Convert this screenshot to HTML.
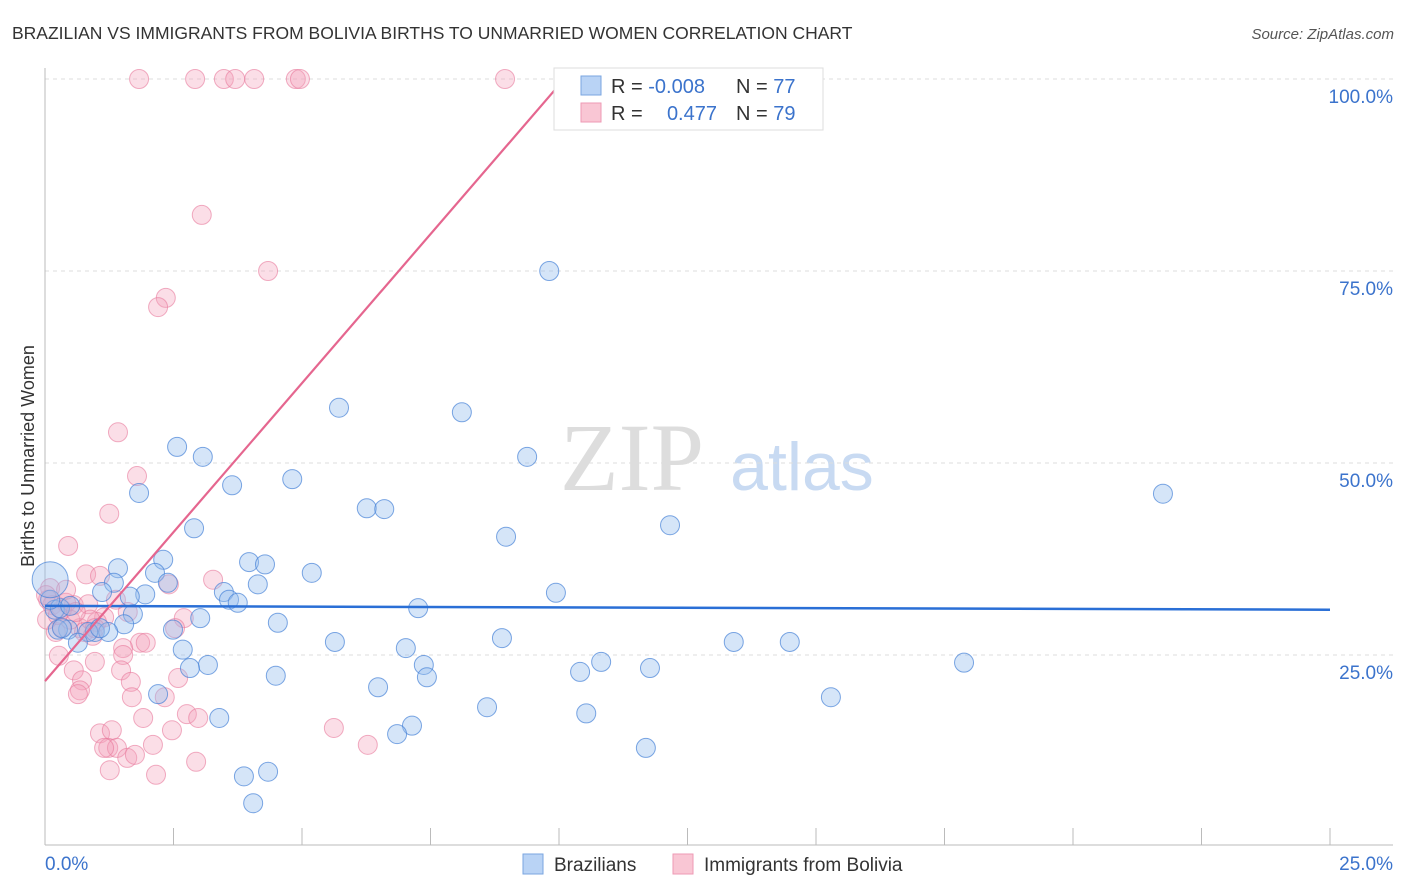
<!DOCTYPE html>
<html><head><meta charset="utf-8"><style>
body{margin:0;background:#fff;font-family:"Liberation Sans",sans-serif;}
svg{display:block}
</style></head><body>
<svg id="chart" width="1406" height="892">
<text x="12" y="39" font-size="17.5" fill="#333">BRAZILIAN VS IMMIGRANTS FROM BOLIVIA BIRTHS TO UNMARRIED WOMEN CORRELATION CHART</text>
<text x="1394" y="39" font-size="15" fill="#555" font-style="italic" text-anchor="end">Source: ZipAtlas.com</text>
<text transform="translate(34,456) rotate(-90)" font-size="18" fill="#333" text-anchor="middle">Births to Unmarried Women</text>
<g><text x="632" y="490" font-size="96" font-family="Liberation Serif,serif" fill="#ddd" text-anchor="middle">ZIP</text><text x="802" y="490" font-size="68" fill="#c8daf2" text-anchor="middle">atlas</text></g>
<g id="grid"></g><g id="axes"></g><g id="pts"></g><g id="lines"></g>
<g>
<rect x="554" y="68" width="269" height="62" fill="#fff" stroke="#ddd"/>
<rect x="581" y="76" width="20" height="19" fill="#b9d3f5" stroke="#7aa6e0"/>
<rect x="581" y="103" width="20" height="19" fill="#f9c6d4" stroke="#ee9ab4"/>
<text x="611" y="93" font-size="20" fill="#333">R = <tspan fill="#3b73cc">-0.008</tspan></text>
<text x="736" y="93" font-size="20" fill="#333">N = <tspan fill="#3b73cc">77</tspan></text>
<text x="611" y="120" font-size="20" fill="#333">R = </text><text x="717" y="120" font-size="20" fill="#3b73cc" text-anchor="end">0.477</text>
<text x="736" y="120" font-size="20" fill="#333">N = <tspan fill="#3b73cc">79</tspan></text>
</g>
<g>
<rect x="523" y="854" width="20" height="20" fill="#b9d3f5" stroke="#7aa6e0"/>
<text x="554" y="871" font-size="19" fill="#333">Brazilians</text>
<rect x="673" y="854" width="20" height="20" fill="#f9c6d4" stroke="#ee9ab4"/>
<text x="704" y="871" font-size="19" fill="#333">Immigrants from Bolivia</text>
</g>
</svg>
<script>
const yTicks=[25,50,75,100];
const yTickLabels=["25.0%","50.0%","75.0%","100.0%"];
const xTickCount=10;
const blueX=[9.81,5.72,8.11,2.57,3.07,9.38,1.83,3.64,4.81,21.75,6.26,6.60,2.90,8.97,12.16,3.97,4.28,2.30,1.42,2.14,5.19,1.34,2.39,4.14,3.48,1.11,1.95,1.65,3.58,3.75,9.94,7.26,3.02,1.71,4.53,1.54,2.49,0.45,0.25,0.97,0.84,1.23,5.64,8.89,13.40,14.49,2.68,7.02,0.64,7.37,3.17,2.82,10.82,11.77,10.41,17.88,4.49,7.43,6.48,2.20,15.29,8.60,10.53,3.39,7.14,6.85,11.69,3.87,4.34,4.05,0.19,0.29,0.49,0.10,0.33,1.07,0.10];
const blueY=[75.0,57.2,56.6,52.1,50.8,50.8,46.1,47.1,47.9,46.0,44.1,44.0,41.5,40.4,41.9,37.1,36.8,37.4,36.3,35.7,35.7,34.4,34.4,34.2,33.2,33.2,32.9,32.6,32.2,31.8,33.1,31.1,29.8,30.3,29.2,29.0,28.3,28.3,28.3,28.0,28.0,28.0,26.7,27.2,26.7,26.7,25.7,25.9,26.6,23.7,23.7,23.3,24.1,23.3,22.8,24.0,22.3,22.1,20.8,19.9,19.5,18.2,17.4,16.8,15.8,14.7,12.9,9.2,9.8,5.7,30.9,31.1,31.4,32.2,28.5,28.5,34.8];
const pinkX=[1.83,2.92,3.48,3.70,4.07,4.88,4.96,8.95,3.05,4.34,2.35,2.20,1.42,1.79,1.25,0.45,0.80,1.07,3.27,2.41,0.10,0.06,0.14,0.56,0.41,0.84,1.61,2.70,1.15,1.01,0.33,0.68,0.21,0.76,2.53,0.93,1.85,1.96,1.52,1.52,0.27,0.97,1.48,0.56,2.59,1.67,0.72,0.68,0.64,2.33,1.69,2.76,2.98,1.91,2.47,5.62,1.07,1.30,2.10,1.23,1.40,1.15,1.60,1.75,6.28,2.94,1.26,2.16,0.33,0.02,0.41,0.88,1.38,0.49,0.97,0.04,0.25,0.60];
const pinkY=[100,100,100,100,100,100,100,100,82.3,75.0,71.5,70.3,54.0,48.3,43.4,39.2,35.5,35.3,34.8,34.2,33.7,32.2,31.5,31.5,31.8,31.6,30.6,29.8,29.9,29.3,28.6,28.5,28.0,28.0,28.5,27.5,26.6,26.6,25.9,25.0,24.9,24.1,23.0,23.0,22.0,21.5,21.7,20.4,19.9,19.5,19.5,17.3,16.8,16.8,15.2,15.5,14.8,15.2,13.3,12.9,12.9,12.9,11.6,12.0,13.3,11.1,10.0,9.4,30.9,32.8,33.5,29.6,32.2,29.6,28.5,29.6,30.2,30.6];
const blueTrend=[31.4,30.9];
const pinkTrend=[21.6,7.76];
const X0=45,X1=1330,Y0=847,YS=7.68;
const sx=v=>X0+v*(X1-X0)/25;
const sy=v=>Y0-v*YS;
const NS="http://www.w3.org/2000/svg";
function mk(tag,parent,attrs){const e=document.createElementNS(NS,tag);for(const k in attrs)e.setAttribute(k,attrs[k]);document.getElementById(parent).appendChild(e);return e;}
yTicks.forEach((t,i)=>{
 const g=mk('line','grid',{x1:45,x2:1393,y1:sy(t),y2:sy(t),stroke:'#ddd','stroke-dasharray':'4,4'});
 
 
 const l=mk('text','grid',{x:1393,y:sy(t)+24,'font-size':19,fill:'#3b73cc','text-anchor':'end'});
 l.textContent=yTickLabels[i];
 
 
});
const ax=mk('line','axes',{x1:45,x2:45,y1:68,y2:845,stroke:'#bbb'});


const bx=mk('line','axes',{x1:45,x2:1393,y1:845,y2:845,stroke:'#bbb'});


for(let i=1;i<=xTickCount;i++){const t=mk('line','axes',{x1:sx(i*2.5),x2:sx(i*2.5),y1:828,y2:845,stroke:'#bbb'});
 
 }
const xl=mk('text','axes',{x:45,y:870,'font-size':19,fill:'#3b73cc'});xl.textContent="0.0%";


const xr=mk('text','axes',{x:1393,y:870,'font-size':19,fill:'#3b73cc','text-anchor':'end'});xr.textContent="25.0%";


pinkX.forEach((x,i)=>{const c=mk('circle','pts',{cx:sx(x),cy:sy(pinkY[i]),r:9.5,fill:'rgba(244,160,185,0.35)',stroke:'rgba(232,120,155,0.6)'});
 
 });
blueX.forEach((x,i)=>{const big=i===blueX.length-1;const c=mk('circle','pts',{cx:sx(x),cy:sy(blueY[i]),r:big?18:9.5,fill:'rgba(150,190,238,0.4)',stroke:'rgba(70,130,215,0.7)'});
 
 });
const bl=mk('line','lines',{x1:sx(0),x2:sx(25),y1:sy(blueTrend[0]),y2:sy(blueTrend[1]),stroke:'#2a6fd6','stroke-width':2.5});


const xe=(99.5-pinkTrend[0])/pinkTrend[1];
const pl=mk('line','lines',{x1:sx(0),x2:sx(xe),y1:sy(pinkTrend[0]),y2:sy(pinkTrend[0]+pinkTrend[1]*xe),stroke:'#e5668f','stroke-width':2.2});


</script>
</body></html>
